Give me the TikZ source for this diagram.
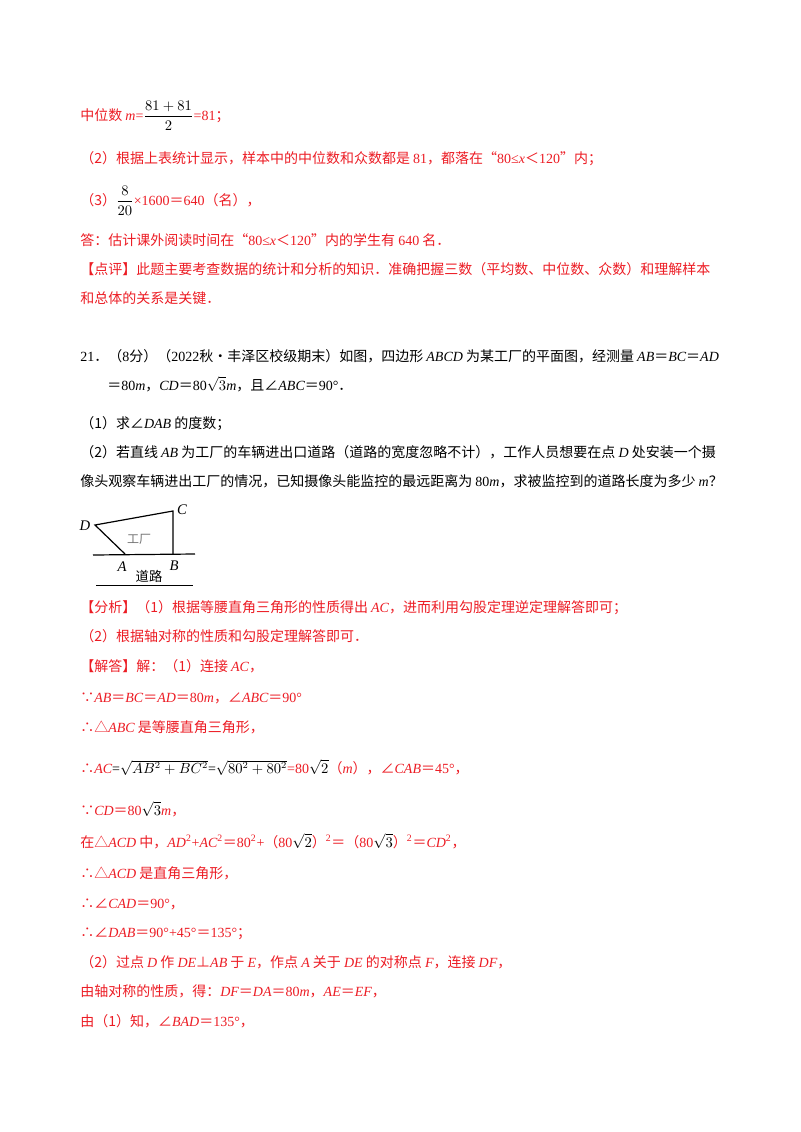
\documentclass[tikz,border=0pt]{standalone}
\usepackage{fontspec}
\setmainfont{Noto Sans CJK SC}
\newfontfamily\tm{Liberation Serif}
\newcommand\I[1]{{\tm\itshape #1}}
\newcommand\R[1]{{\tm #1}}
\definecolor{rd}{RGB}{236,28,36}
\begin{document}
\begin{tikzpicture}[x=0.75pt,y=-0.75pt,
  t/.style={anchor=base west,inner sep=0,font=\fontsize{10.5}{12}\selectfont},
  r/.style={t,text=rd},
  fig/.style={line width=0.9pt}]
\useasboundingbox (0,0) rectangle (800,1132);
\node[r] (l1) at (80,120) {中位数 \I{m}\R{=}{\color{black}$\displaystyle\frac{81+81}{2}$}\R{=81}；};
\node[r] (l2) at (80,163) {（2）根据上表统计显示，样本中的中位数和众数都是 \R{81}，都落在“\R{80≤}\I{x}＜\R{120}”内；};
\node[r] (l3) at (80,205) {（3）{\color{black}$\displaystyle\frac{8}{20}$}\R{×1600}＝\R{640}（名），};
\node[r] (l4) at (80,245) {答：估计课外阅读时间在“\R{80≤}\I{x}＜\R{120}”内的学生有 \R{640} 名．};
\node[r] (l5) at (80,274) {【点评】此题主要考查数据的统计和分析的知识．准确把握三数（平均数、中位数、众数）和理解样本};
\node[r] (l6) at (80,303) {和总体的关系是关键．};
\node[t] (p1) at (80,361) {\R{21}．（\R{8}分）（\R{2022}秋•丰泽区校级期末）如图，四边形 \I{ABCD} 为某工厂的平面图，经测量 \I{AB}＝\I{BC}＝\I{AD}};
\node[t] (p2) at (107,390) {＝\R{80}\I{m}，\I{CD}＝\R{80}$\sqrt{3}$\I{m}，且∠\I{ABC}＝\R{90°}．};
\node[t] (p3) at (80,428) {（1）求∠\I{DAB} 的度数；};
\node[t] (p4) at (80,457) {（2）若直线 \I{AB} 为工厂的车辆进出口道路（道路的宽度忽略不计），工作人员想要在点 \I{D} 处安装一个摄};
\node[t] (p5) at (80,486) {像头观察车辆进出工厂的情况，已知摄像头能监控的最远距离为 \R{80}\I{m}，求被监控到的道路长度为多少 \I{m}？};
% figure
\coordinate (D) at (95,525);
\coordinate (C) at (173,511);
\coordinate (B) at (173,554);
\coordinate (A) at (125,554);
\coordinate (g1) at (93,555);
\coordinate (g2) at (195,554);
\coordinate (h1) at (96,585);
\coordinate (h2) at (193,585);
\draw[fig] (A) -- (D) -- (C) -- (B);
\draw[fig] (g1) -- (g2);
\draw[line width=0.7pt] (h1) -- (h2);
\node[inner sep=0,font=\tm\itshape\fontsize{11}{12}\selectfont] (nD) at (85,526) {D};
\node[inner sep=0,font=\tm\itshape\fontsize{11}{12}\selectfont] (nC) at (182,510) {C};
\node[inner sep=0,font=\tm\itshape\fontsize{11}{12}\selectfont] (nA) at (122,567) {A};
\node[inner sep=0,font=\tm\itshape\fontsize{11}{12}\selectfont] (nB) at (174,566) {B};
\node[inner sep=0,text=black!55,font=\fontsize{9}{10}\selectfont] (gc) at (139,539) {工厂};
\node[inner sep=0,font=\fontsize{10}{11}\selectfont] (dl) at (149,576) {道路};
% solution
\node[r] (s1) at (80,612) {【分析】（1）根据等腰直角三角形的性质得出 \I{AC}，进而利用勾股定理逆定理解答即可；};
\node[r] (s2) at (80,641) {（2）根据轴对称的性质和勾股定理解答即可．};
\node[r] (s3) at (80,671) {【解答】解：（1）连接 \I{AC}，};
\node[r] (s4) at (80,702) {∵\I{AB}＝\I{BC}＝\I{AD}＝\R{80}\I{m}，∠\I{ABC}＝\R{90°}};
\node[r] (s5) at (80,732) {∴△\I{ABC} 是等腰直角三角形，};
\node[r] (s6) at (80,773) {∴\I{AC}{\color{black}\R{=}$\sqrt{AB^2+BC^2}$\R{=}$\sqrt{80^2+80^2}$}\R{=80}{\color{black}$\sqrt{2}$}（\I{m}），∠\I{CAB}＝\R{45°}，};
\node[r] (s7) at (80,815) {∵\I{CD}＝\R{80}{\color{black}$\sqrt{3}$}\I{m}，};
\node[r] (s8) at (80,847) {在△\I{ACD} 中，\I{AD}\textsuperscript{\R{2}}\R{+}\I{AC}\textsuperscript{\R{2}}＝\R{80}\textsuperscript{\R{2}}\R{+}（\R{80}{\color{black}$\sqrt{2}$}）\textsuperscript{\R{2}}＝（\R{80}{\color{black}$\sqrt{3}$}）\textsuperscript{\R{2}}＝\I{CD}\textsuperscript{\R{2}}，};
\node[r] (s9) at (80,878) {∴△\I{ACD} 是直角三角形，};
\node[r] (s10) at (80,908) {∴∠\I{CAD}＝\R{90°}，};
\node[r] (s11) at (80,937) {∴∠\I{DAB}＝\R{90°+45°}＝\R{135°}；};
\node[r] (s12) at (80,967) {（2）过点 \I{D} 作 \I{DE}⊥\I{AB} 于 \I{E}，作点 \I{A} 关于 \I{DE} 的对称点 \I{F}，连接 \I{DF}，};
\node[r] (s13) at (80,996) {由轴对称的性质，得：\I{DF}＝\I{DA}＝\R{80}\I{m}，\I{AE}＝\I{EF}，};
\node[r] (s14) at (80,1026) {由（1）知，∠\I{BAD}＝\R{135°}，};
\end{tikzpicture}
\end{document}
